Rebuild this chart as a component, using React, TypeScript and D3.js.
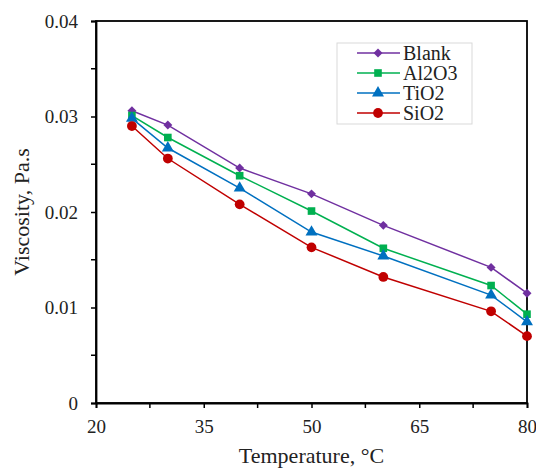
import React, { useEffect, useRef } from "react";
import * as d3 from "d3";

// temperatures (°C)
const temps = [25, 30, 40, 50, 60, 75, 80];

// viscosity (Pa.s)
const blank = [0.0306, 0.0291, 0.0246, 0.0219, 0.0186, 0.0142, 0.0115];
const al2o3 = [0.0301, 0.0278, 0.0238, 0.0201, 0.0162, 0.0123, 0.0093];
const tio2 = [0.0298, 0.0267, 0.0225, 0.0179, 0.0154, 0.0113, 0.0085];
const sio2 = [0.029, 0.0256, 0.0208, 0.0163, 0.0132, 0.0096, 0.007];

const seriesNames = ["Blank", "Al2O3", "TiO2", "SiO2"];
const seriesColors = ["#7030A0", "#00B050", "#0070C0", "#C00000"];
const seriesShapes = [d3.symbolSquare, d3.symbolSquare, d3.symbolTriangle, d3.symbolCircle];
const seriesSizes = [40, 58, 62, 75];
const seriesRotate = [45, 0, 0, 0];

const xTicks = [20, 35, 50, 65, 80];
const xMinor = [27.5, 42.5, 57.5, 72.5];
const yTicks = [0, 0.01, 0.02, 0.03, 0.04];
const yMinor = [0.005, 0.015, 0.025, 0.035];

const W = 536;
const H = 468;
const margin = { top: 21, right: 9, bottom: 65, left: 96 };
const FONT = "Liberation Serif, Times New Roman, Times, serif";

const App = () => {
  const svgRef = useRef<SVGSVGElement>(null);

  useEffect(() => {
    const svg = d3.select(svgRef.current);
    svg.selectAll("*").remove();

    const x = d3.scaleLinear().domain([20, 80]).range([margin.left, W - margin.right]);
    const y = d3.scaleLinear().domain([0, 0.04]).range([H - margin.bottom, margin.top]);

    const allSeries = [blank, al2o3, tio2, sio2];

    // frame
    svg
      .append("rect")
      .attr("x", x(20))
      .attr("y", y(0.04))
      .attr("width", x(80) - x(20))
      .attr("height", y(0) - y(0.04))
      .attr("fill", "none")
      .attr("stroke", "#000")
      .attr("stroke-width", 1.8);

    // x axis
    const xAxis = svg.append("g").attr("transform", `translate(0,${y(0)})`);
    xAxis.call(
      d3
        .axisBottom(x)
        .tickValues(xTicks)
        .tickSize(5)
        .tickPadding(12)
        .tickFormat((d) => String(d))
    );
    xAxis
      .selectAll(".minor")
      .data(xMinor)
      .enter()
      .append("line")
      .attr("x1", (d) => x(d))
      .attr("x2", (d) => x(d))
      .attr("y1", 0)
      .attr("y2", 5)
      .attr("stroke", "#000")
      .attr("stroke-width", 1.5);

    // y axis
    const yAxis = svg.append("g").attr("transform", `translate(${x(20)},0)`);
    yAxis.call(
      d3
        .axisLeft(y)
        .tickValues(yTicks)
        .tickSize(5)
        .tickPadding(13)
        .tickFormat((d) => (d === 0 ? "0" : d3.format(".2f")(d as number)))
    );
    yAxis
      .selectAll(".minor")
      .data(yMinor)
      .enter()
      .append("line")
      .attr("x1", -5)
      .attr("x2", 0)
      .attr("y1", (d) => y(d))
      .attr("y2", (d) => y(d))
      .attr("stroke", "#000")
      .attr("stroke-width", 1.5);

    [xAxis, yAxis].forEach((g) => {
      g.attr("font-family", null).attr("font-size", null);
      g.select(".domain").attr("stroke-width", 1.8);
      g.selectAll(".tick line").attr("stroke-width", 1.5);
      g.selectAll(".tick text")
        .style("font-family", FONT)
        .style("font-size", "19px")
        .attr("fill", "#222");
    });

    // axis titles
    svg
      .append("text")
      .attr("x", (x(20) + x(80)) / 2)
      .attr("y", H - 5)
      .attr("text-anchor", "middle")
      .style("font-family", FONT)
      .style("font-size", "22px")
      .attr("fill", "#222")
      .text("Temperature, °C");

    svg
      .append("text")
      .attr("transform", `translate(29,${(y(0) + y(0.04)) / 2}) rotate(-90)`)
      .attr("text-anchor", "middle")
      .style("font-family", FONT)
      .style("font-size", "22px")
      .attr("fill", "#222")
      .text("Viscosity, Pa.s");

    // lines + markers
    const line = d3
      .line<number>()
      .x((_, i) => x(temps[i]))
      .y((d) => y(d));

    allSeries.forEach((vals, si) => {
      svg
        .append("path")
        .datum(vals)
        .attr("d", line)
        .attr("fill", "none")
        .attr("stroke", seriesColors[si])
        .attr("stroke-width", 1.5);
    });

    allSeries.forEach((vals, si) => {
      const sym = d3.symbol().type(seriesShapes[si]).size(seriesSizes[si]);
      svg
        .append("g")
        .selectAll("path")
        .data(vals)
        .enter()
        .append("path")
        .attr("d", sym)
        .attr(
          "transform",
          (d, i) => `translate(${x(temps[i])},${y(d)}) rotate(${seriesRotate[si]})`
        )
        .attr("fill", seriesColors[si]);
    });

    // legend
    const legend = svg.append("g").attr("transform", "translate(337,43)");
    legend
      .append("rect")
      .attr("width", 135)
      .attr("height", 81)
      .attr("fill", "#fff")
      .attr("stroke", "#d9d9d9")
      .attr("stroke-width", 1);

    seriesNames.forEach((name, si) => {
      const cy = 10 + si * 20;
      const row = legend.append("g").attr("transform", `translate(0,${cy})`);
      row
        .append("line")
        .attr("x1", 20)
        .attr("x2", 63)
        .attr("stroke", seriesColors[si])
        .attr("stroke-width", 1.5);
      row
        .append("path")
        .attr("d", d3.symbol().type(seriesShapes[si]).size(seriesSizes[si])())
        .attr("transform", `translate(41,0) rotate(${seriesRotate[si]})`)
        .attr("fill", seriesColors[si]);
      row
        .append("text")
        .attr("x", 66)
        .attr("y", 6.5)
        .style("font-family", FONT)
        .style("font-size", "20px")
        .attr("fill", "#222")
        .text(name);
    });
  }, []);

  return (
    <svg
      ref={svgRef}
      width={W}
      height={H}
      style={{ position: "absolute", left: 0, top: 0, background: "#fff" }}
    />
  );
};

export default App;
